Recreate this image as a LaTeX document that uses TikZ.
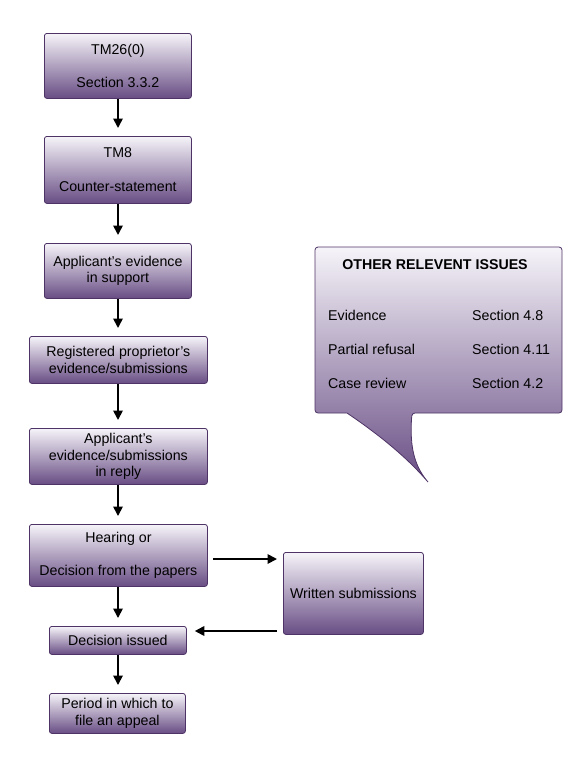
\documentclass[tikz,border=0pt]{standalone}
\usepackage{fontspec}
\setmainfont{Liberation Sans}
\usetikzlibrary{arrows.meta,calc}
\definecolor{bordc}{RGB}{78,52,102}
\definecolor{topc}{RGB}{246,244,249}
\definecolor{midc}{RGB}{186,172,203}
\definecolor{botc}{RGB}{104,77,132}
\tikzset{
  box/.style={draw=bordc, line width=0.8pt, rounded corners=2.5pt, top color=topc, middle color=midc, bottom color=botc,
    anchor=north west, inner sep=0pt, align=center, text=black,
    font=\fontsize{14.2}{16.8}\selectfont},
  arr/.style={line width=1.8pt, -{Triangle[width=9.5pt,length=9.5pt]}},
  txt/.style={inner sep=0pt, font=\fontsize{14.2}{16.8}\selectfont},
}
\begin{document}
\begin{tikzpicture}[x=1pt,y=-1pt]
\useasboundingbox (0,0) rectangle (583,780);
% callout
\path[draw=bordc, line width=0.8pt, top color=topc, middle color=midc, bottom color=botc]
  [rounded corners=3pt] (347,413) -- (315,413) -- (315,247) -- (562,247) -- (562,413) -- (412,413)
  [sharp corners] .. controls (409,450) and (416,468) .. (428,482)
  .. controls (405,455) and (375,432) .. (347,413) -- cycle;
\node[txt, font=\fontsize{14.2}{16}\selectfont\bfseries] (oth) at (435,265) {OTHER RELEVENT ISSUES};
\node[txt, anchor=west] (ev) at (328,315) {Evidence};
\node[txt, anchor=west] (evs) at (472,315) {Section 4.8};
\node[txt, anchor=west] (pr) at (328,349) {Partial refusal};
\node[txt, anchor=west] (prs) at (472,349) {Section 4.11};
\node[txt, anchor=west] (cr) at (328,383) {Case review};
\node[txt, anchor=west] (crs) at (472,383) {Section 4.2};
% boxes
\node[box, minimum width=147pt, minimum height=65pt] (b1) at (44,33) {TM26(0)\\[16.8pt]Section 3.3.2};
\node[box, minimum width=147pt, minimum height=67pt] (b2) at (44,136) {TM8\\[16.8pt]Counter-statement};
\node[box, minimum width=147pt, minimum height=55pt] (b3) at (44,243) {Applicant’s evidence\\in support};
\node[box, minimum width=178pt, minimum height=47pt] (b4) at (29,336) {Registered proprietor’s\\evidence/submissions};
\node[box, minimum width=178pt, minimum height=56pt] (b5) at (29,428) {Applicant’s\\evidence/submissions\\in reply};
\node[box, minimum width=178pt, minimum height=62pt] (b6) at (29,524) {Hearing or\\[16.8pt]Decision from the papers};
\node[box, minimum width=140pt, minimum height=82pt] (ws) at (283,552) {Written submissions};
\node[box, minimum width=137pt, minimum height=28pt] (di) at (49,626) {Decision issued};
\node[box, minimum width=136pt, minimum height=40pt] (pe) at (49,693) {Period in which to\\file an appeal};
% arrows
\draw[arr, shorten >=8pt] (b1.south -| 118,0) -- (b2.north -| 118,0);
\draw[arr, shorten >=8pt] (b2.south -| 118,0) -- (b3.north -| 118,0);
\draw[arr, shorten >=8pt] (b3.south -| 118,0) -- (b4.north -| 118,0);
\draw[arr, shorten >=8pt] (b4.south -| 118,0) -- (b5.north -| 118,0);
\draw[arr, shorten >=8pt] (b5.south -| 118,0) -- (b6.north -| 118,0);
\draw[arr, shorten >=8pt] (b6.south -| 118,0) -- (di.north -| 118,0);
\draw[arr, shorten >=8pt] (di.south -| 118,0) -- (pe.north -| 118,0);
\draw[arr, shorten <=5pt, shorten >=6pt] (b6.east |- 0,559) -- (ws.west |- 0,559);
\draw[arr, shorten <=6pt, shorten >=8pt] (ws.west |- 0,631) -- (di.east |- 0,631);
\end{tikzpicture}
\end{document}
